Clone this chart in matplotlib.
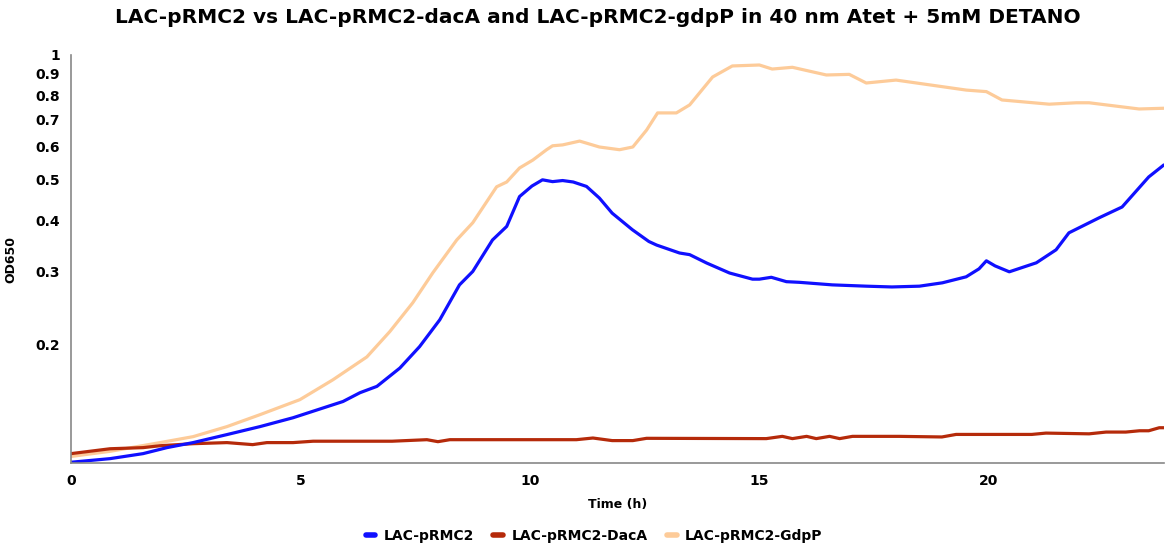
import matplotlib
matplotlib.use("Agg")
import matplotlib.pyplot as plt
from matplotlib.ticker import FixedLocator, NullLocator

# Time (h) and OD650
t_blue = [0, 0.85, 1.57, 2.09, 2.66, 3.4, 4.12, 4.84, 5.93, 6.3, 6.67, 7.17, 7.6, 8.04,
          8.47, 8.76, 9.19, 9.5, 9.78, 10.05, 10.28, 10.5, 10.72, 10.95, 11.24, 11.52, 11.8,
          12.24, 12.6, 12.77, 13.27, 13.49, 13.86, 14.36, 14.86, 15.01, 15.27, 15.6, 15.88,
          16.6, 17.34, 17.9, 18.5, 19.0, 19.52, 19.8, 19.96, 20.15, 20.46, 21.05, 21.48,
          21.76, 22.42, 22.92, 23.5, 23.83]
od_blue = [0.1042, 0.1063, 0.1093, 0.1130, 0.1162, 0.1215, 0.127, 0.1334, 0.146, 0.1533,
           0.1588, 0.1758, 0.198, 0.2298, 0.279, 0.3006, 0.358, 0.386, 0.4556, 0.483, 0.500,
           0.495, 0.498, 0.494, 0.482, 0.452, 0.4155, 0.379, 0.355, 0.348, 0.333, 0.330,
           0.315, 0.298, 0.288, 0.288, 0.291, 0.284, 0.283, 0.279, 0.277, 0.2758, 0.277,
           0.2822, 0.2918, 0.305, 0.3189, 0.310, 0.300, 0.3154, 0.339, 0.3725, 0.405, 0.430,
           0.508, 0.543]

t_red = [0, 0.85, 1.57, 1.94, 2.66, 3.4, 3.96, 4.27, 4.84, 5.28, 7.0, 7.76, 8.0, 8.26,
         11.02, 11.38, 11.8, 12.25, 12.55, 15.16, 15.51, 15.73, 16.04, 16.25, 16.54, 16.76,
         17.04, 18.06, 18.99, 19.3, 20.95, 21.26, 22.2, 22.57, 23.0, 23.3, 23.5, 23.73, 23.83]
od_red = [0.1093, 0.1123, 0.1130, 0.1142, 0.1155, 0.1162, 0.1149, 0.1162, 0.1162, 0.1171,
          0.1171, 0.1181, 0.1168, 0.1181, 0.1181, 0.1192, 0.1175, 0.1175, 0.1190, 0.1188,
          0.1203, 0.1188, 0.1203, 0.1188, 0.1203, 0.1188, 0.1203, 0.1203, 0.1199, 0.1216,
          0.1216, 0.1225, 0.1220, 0.1232, 0.1232, 0.1241, 0.1241, 0.1262, 0.1262]

t_orange = [0, 0.85, 1.94, 2.66, 3.4, 4.12, 4.99, 5.71, 6.45, 6.95, 7.45, 7.89, 8.41,
            8.76, 9.28, 9.5, 9.78, 10.07, 10.37, 10.5, 10.72, 11.09, 11.52, 11.96, 12.25,
            12.55, 12.79, 13.2, 13.49, 13.99, 14.42, 15.01, 15.29, 15.73, 16.47, 16.97,
            17.34, 17.99, 19.52, 19.96, 20.3, 21.33, 21.92, 22.2, 23.29, 23.83]
od_orange = [0.1076, 0.1107, 0.1162, 0.1201, 0.127, 0.1357, 0.1475, 0.1647, 0.187, 0.2152,
             0.2525, 0.2985, 0.358, 0.394, 0.481, 0.494, 0.534, 0.558, 0.591, 0.604, 0.607,
             0.620, 0.600, 0.591, 0.600, 0.659, 0.725, 0.725, 0.758, 0.885, 0.941, 0.946,
             0.925, 0.934, 0.895, 0.898, 0.856, 0.870, 0.823, 0.816, 0.779, 0.761, 0.767,
             0.767, 0.741, 0.744]

y_ticks = [0.2, 0.3, 0.4, 0.5, 0.6, 0.7, 0.8, 0.9, 1.0]
y_labels = ["0.2", "0.3", "0.4", "0.5", "0.6", "0.7", "0.8", "0.9", "1"]
x_ticks = [0, 5, 10, 15, 20]

plt.rcParams["font.family"] = ["DejaVu Sans"]
plt.rcParams["font.weight"] = "bold"

fig = plt.figure(figsize=(11.65, 5.5), dpi=100)
ax = fig.add_axes([0.061, 0.158, 0.938, 0.742])

kw = dict(lw=2.3, solid_joinstyle="round", solid_capstyle="round")
ax.plot(t_orange, od_orange, color="#fdcb99", label="LAC-pRMC2-GdpP", **kw)
ax.plot(t_red, od_red, color="#b52a0a", label="LAC-pRMC2-DacA", **kw)
ax.plot(t_blue, od_blue, color="#1010ff", label="LAC-pRMC2", **kw)

ax.set_yscale("log")
ax.set_ylim(0.1037, 1.0)
ax.set_xlim(0, 23.83)
ax.yaxis.set_major_locator(FixedLocator(y_ticks))
ax.set_yticklabels(y_labels)
ax.yaxis.set_minor_locator(NullLocator())
ax.xaxis.set_major_locator(FixedLocator(x_ticks))
ax.tick_params(length=0, labelsize=10, pad=8)
for lab in ax.get_xticklabels() + ax.get_yticklabels():
    lab.set_fontweight("bold")

for s in ("top", "right"):
    ax.spines[s].set_visible(False)
for s in ("left", "bottom"):
    ax.spines[s].set_color("#888888")
    ax.spines[s].set_linewidth(1.2)

ax.set_xlabel("Time (h)", fontsize=9, fontweight="bold", labelpad=7)
ax.set_ylabel("OD650", fontsize=9, fontweight="bold", labelpad=13)
fig.suptitle("LAC-pRMC2 vs LAC-pRMC2-dacA and LAC-pRMC2-gdpP in 40 nm Atet + 5mM DETANO",
             fontsize=14.5, fontweight="bold", x=0.513, y=0.985)

handles, labels = ax.get_legend_handles_labels()
order = [2, 1, 0]
leg = fig.legend([handles[i] for i in order], [labels[i] for i in order],
                 loc="center", bbox_to_anchor=(0.51, 0.025), ncol=3, frameon=False,
                 handlelength=0.7, handletextpad=0.6, columnspacing=1.4,
                 prop={"size": 10, "weight": "bold"})
for line in leg.get_lines():
    line.set_linewidth(4)

fig.savefig("out.png", dpi=100)
